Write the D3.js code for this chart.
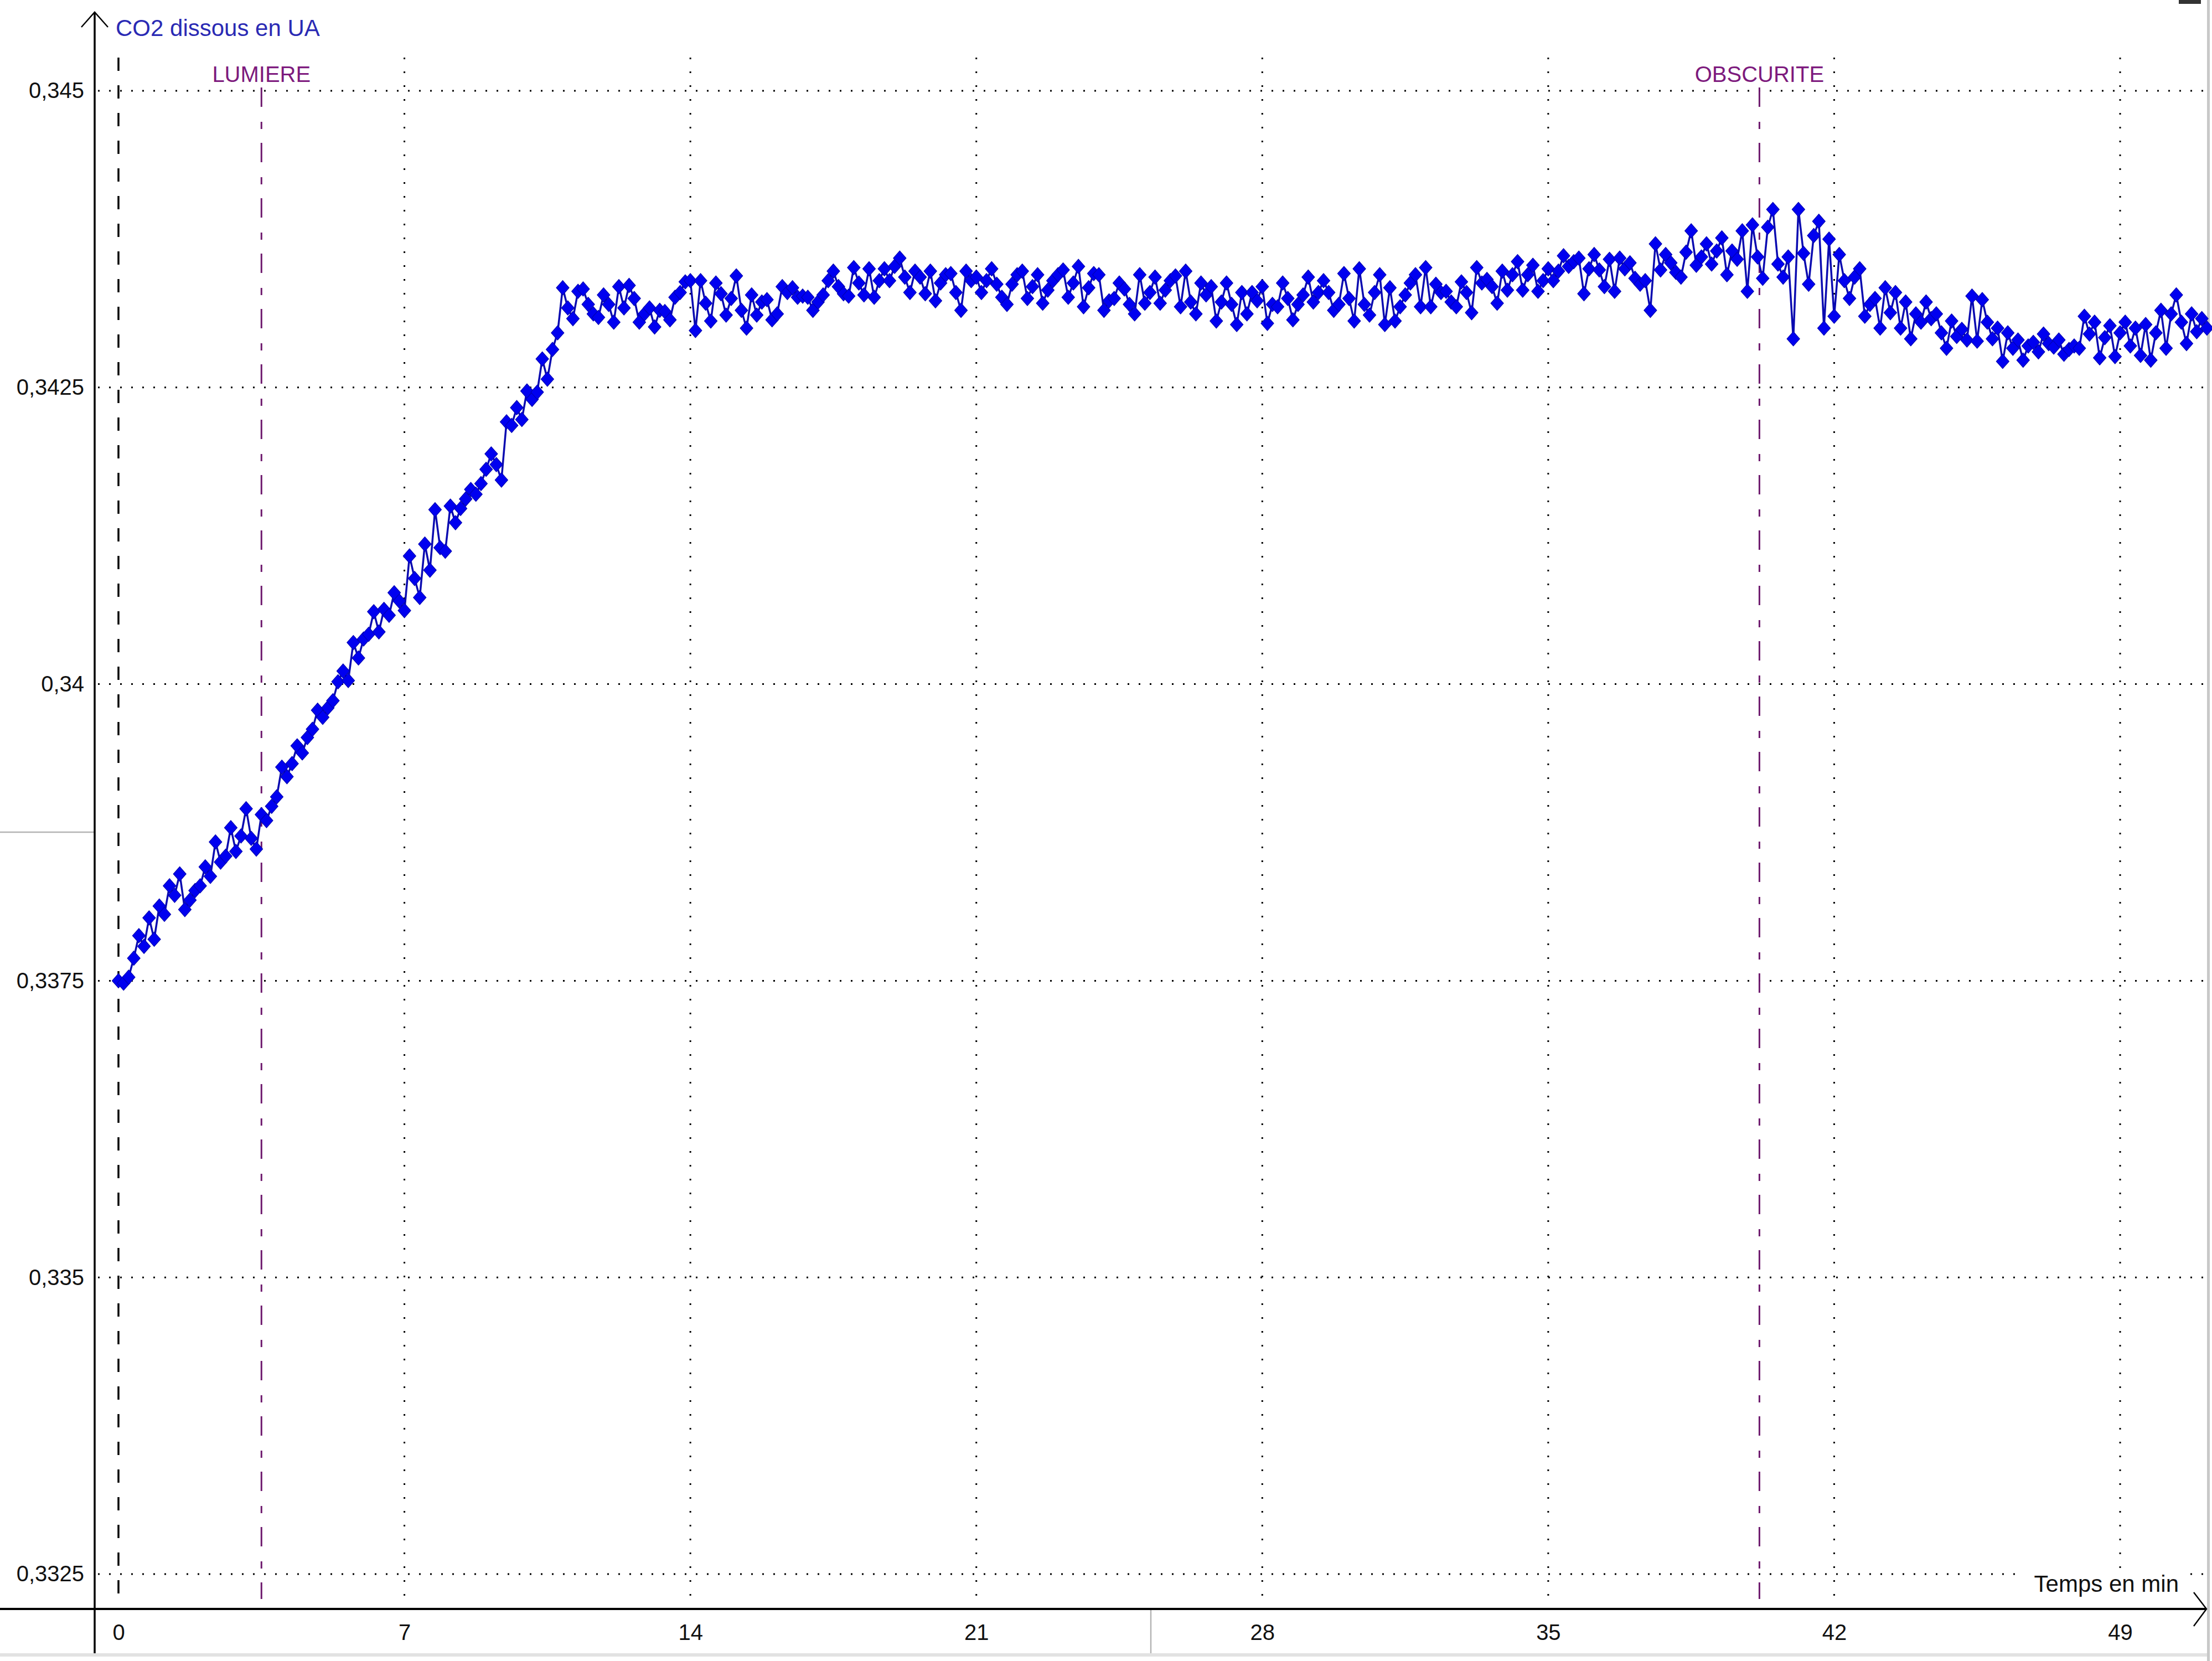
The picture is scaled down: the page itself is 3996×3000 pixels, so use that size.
<!DOCTYPE html>
<html>
<head>
<meta charset="utf-8">
<script src="https://cdn.jsdelivr.net/npm/d3@7"></script>
<style>
  html, body { margin: 0; padding: 0; background: #fff; }
  svg { display: block; }
</style>
</head>
<body>
<svg id="chart" width="3996" height="3000"></svg>
<script>
// ---------- DATA ----------
const sampleMin = 0.125; // acquisition period (min)
const co2 = [
  0.33750,0.33748,0.33753,0.33769,0.33788,0.33779,0.33803,0.33785,
  0.33813,0.33806,0.33830,0.33822,0.33840,0.33810,0.33818,0.33826,
  0.33830,0.33846,0.33838,0.33867,0.33850,0.33855,0.33879,0.33859,
  0.33872,0.33895,0.33870,0.33861,0.33890,0.33885,0.33897,0.33905,
  0.33930,0.33922,0.33933,0.33948,0.33942,0.33955,0.33962,0.33978,
  0.33972,0.33980,0.33986,0.34002,0.34011,0.34003,0.34035,0.34022,
  0.34038,0.34042,0.34061,0.34044,0.34063,0.34058,0.34077,0.34070,
  0.34062,0.34108,0.34089,0.34073,0.34118,0.34096,0.34147,0.34115,
  0.34112,0.34150,0.34136,0.34148,0.34156,0.34164,0.34160,0.34169,
  0.34181,0.34194,0.34185,0.34172,0.34221,0.34218,0.34233,0.34223,
  0.34247,0.34240,0.34246,0.34274,0.34257,0.34282,0.34296,0.34334,
  0.34317,0.34308,0.34331,0.34333,0.34320,0.34312,0.34309,0.34328,
  0.34320,0.34305,0.34335,0.34317,0.34336,0.34325,0.34305,0.34312,
  0.34317,0.34301,0.34315,0.34314,0.34307,0.34326,0.34330,0.34339,
  0.34340,0.34298,0.34340,0.34321,0.34306,0.34338,0.34329,0.34311,
  0.34325,0.34344,0.34315,0.34300,0.34328,0.34311,0.34322,0.34324,
  0.34307,0.34312,0.34335,0.34330,0.34334,0.34326,0.34327,0.34326,
  0.34315,0.34322,0.34328,0.34340,0.34348,0.34335,0.34329,0.34327,
  0.34351,0.34338,0.34328,0.34350,0.34326,0.34340,0.34350,0.34340,
  0.34352,0.34359,0.34343,0.34330,0.34348,0.34343,0.34329,0.34348,
  0.34323,0.34338,0.34345,0.34346,0.34330,0.34315,0.34348,0.34340,
  0.34343,0.34330,0.34340,0.34350,0.34337,0.34326,0.34320,0.34337,
  0.34345,0.34348,0.34325,0.34335,0.34345,0.34321,0.34332,0.34340,
  0.34345,0.34349,0.34326,0.34338,0.34352,0.34318,0.34334,0.34346,
  0.34345,0.34315,0.34323,0.34325,0.34338,0.34333,0.34320,0.34312,
  0.34345,0.34321,0.34330,0.34343,0.34321,0.34332,0.34340,0.34344,
  0.34318,0.34348,0.34322,0.34312,0.34338,0.34328,0.34335,0.34306,
  0.34322,0.34338,0.34320,0.34303,0.34330,0.34312,0.34330,0.34323,
  0.34335,0.34304,0.34320,0.34318,0.34338,0.34325,0.34307,0.34320,
  0.34328,0.34343,0.34322,0.34330,0.34340,0.34330,0.34315,0.34320,
  0.34346,0.34325,0.34306,0.34350,0.34320,0.34311,0.34330,0.34345,
  0.34303,0.34334,0.34306,0.34318,0.34328,0.34338,0.34345,0.34318,
  0.34351,0.34318,0.34337,0.34330,0.34331,0.34322,0.34318,0.34339,
  0.34330,0.34313,0.34351,0.34338,0.34341,0.34335,0.34321,0.34348,
  0.34332,0.34345,0.34356,0.34332,0.34345,0.34353,0.34331,0.34340,
  0.34350,0.34340,0.34348,0.34361,0.34352,0.34356,0.34359,0.34329,
  0.34350,0.34362,0.34349,0.34335,0.34358,0.34331,0.34359,0.34350,
  0.34355,0.34342,0.34337,0.34340,0.34315,0.34371,0.34349,0.34362,
  0.34355,0.34347,0.34343,0.34364,0.34382,0.34353,0.34360,0.34371,
  0.34354,0.34365,0.34376,0.34345,0.34365,0.34358,0.34382,0.34331,
  0.34387,0.34360,0.34342,0.34385,0.34400,0.34354,0.34343,0.34360,
  0.34291,0.34400,0.34363,0.34337,0.34378,0.34390,0.34300,0.34375,
  0.34310,0.34362,0.34340,0.34325,0.34343,0.34350,0.34310,0.34320,
  0.34325,0.34300,0.34334,0.34313,0.34330,0.34300,0.34322,0.34291,
  0.34312,0.34305,0.34322,0.34308,0.34312,0.34296,0.34283,0.34306,
  0.34293,0.34299,0.34290,0.34327,0.34289,0.34324,0.34305,0.34291,
  0.34300,0.34272,0.34296,0.34283,0.34290,0.34273,0.34285,0.34288,
  0.34280,0.34295,0.34287,0.34284,0.34290,0.34278,0.34282,0.34285,
  0.34283,0.34310,0.34295,0.34305,0.34275,0.34292,0.34302,0.34276,
  0.34296,0.34305,0.34285,0.34300,0.34277,0.34303,0.34273,0.34296,
  0.34315,0.34283,0.34312,0.34328,0.34305,0.34287,0.34312,0.34297,
  0.34308,0.34300
];
const xTicks = [0, 7, 14, 21, 28, 35, 42, 49];
const yTicks = [0.3325, 0.335, 0.3375, 0.34, 0.3425, 0.345];
const events = [
  { label: "LUMIERE", t: 3.5 },
  { label: "OBSCURITE", t: 40.17 }
];
const yTitle = "CO2 dissous en UA";
const xTitle = "Temps en min";

// ---------- LAYOUT ----------
const svg = d3.select("#chart");
const FONT = "'Liberation Sans', Arial, sans-serif";
const x = d3.scaleLinear().domain([0, 51.1]).range([214, 3985]);
const y = d3.scaleLinear().domain([0.3325, 0.345]).range([2843, 164]);
const axisX = 171, axisY = 2906, gridTop = 104;
const fr = d3.formatLocale({ decimal: ",", thousands: " ", grouping: [3], currency: ["", " €"] });
const fmt = fr.format(".4~f");

svg.append("rect").attr("width", 3996).attr("height", 3000).attr("fill", "#fff");

// window-like borders / artefacts
svg.append("rect").attr("x", 0).attr("y", 2986).attr("width", 3990).attr("height", 6).attr("fill", "#e2e2e2");
svg.append("rect").attr("x", 3987).attr("y", 0).attr("width", 5).attr("height", 3000).attr("fill", "#c8c8c8");
svg.append("rect").attr("x", 3936).attr("y", 0).attr("width", 40).attr("height", 7).attr("fill", "#333");
svg.append("line").attr("x1", 0).attr("x2", axisX).attr("y1", 1503).attr("y2", 1503)
  .attr("stroke", "#b4b4b4").attr("stroke-width", 2.5);
svg.append("line").attr("x1", 2079).attr("x2", 2079).attr("y1", axisY).attr("y2", 2986)
  .attr("stroke", "#b4b4b4").attr("stroke-width", 2.5);

// horizontal dotted grid
svg.append("g").selectAll("line").data(yTicks).join("line")
  .attr("x1", axisX + 6).attr("x2", 3985)
  .attr("y1", d => y(d)).attr("y2", d => y(d))
  .attr("stroke", "#000").attr("stroke-width", 3).attr("stroke-dasharray", "3,17");

// vertical dotted grid
svg.append("g").selectAll("line").data(xTicks.filter(d => d > 0)).join("line")
  .attr("x1", d => x(d)).attr("x2", d => x(d))
  .attr("y1", gridTop).attr("y2", axisY)
  .attr("stroke", "#000").attr("stroke-width", 3).attr("stroke-dasharray", "3,22");

// t = 0 dashed line
svg.append("line").attr("x1", x(0)).attr("x2", x(0)).attr("y1", gridTop).attr("y2", axisY)
  .attr("stroke", "#000").attr("stroke-width", 3.5).attr("stroke-dasharray", "24,26");

// event markers
const ev = svg.append("g");
ev.selectAll("line").data(events).join("line")
  .attr("x1", d => x(d.t)).attr("x2", d => x(d.t))
  .attr("y1", 158).attr("y2", 2888)
  .attr("stroke", "#6e1a6e").attr("stroke-width", 3).attr("stroke-dasharray", "35,27,13,25");
ev.selectAll("text").data(events).join("text")
  .attr("x", d => x(d.t)).attr("y", 148)
  .attr("text-anchor", "middle")
  .attr("font-family", FONT).attr("font-size", 40)
  .attr("fill", "#7d1a7d")
  .text(d => d.label);

// data line + diamonds
const pts = co2.map((v, i) => ({ t: i * sampleMin, v }));
svg.append("path").datum(pts)
  .attr("fill", "none").attr("stroke", "#0a0ab0").attr("stroke-width", 3.5)
  .attr("d", d3.line().x(d => x(d.t)).y(d => y(d.v)));
svg.append("g").selectAll("path").data(pts).join("path")
  .attr("transform", d => `translate(${x(d.t)},${y(d.v)})`)
  .attr("d", "M0,-13L11.5,0L0,13L-11.5,0Z")
  .attr("fill", "#0000f0").attr("stroke", "#0000b4").attr("stroke-width", 1.2);

// axes lines
svg.append("line").attr("x1", 0).attr("x2", 3985).attr("y1", axisY).attr("y2", axisY)
  .attr("stroke", "#000").attr("stroke-width", 4);
svg.append("line").attr("x1", axisX).attr("x2", axisX).attr("y1", 22).attr("y2", 2986)
  .attr("stroke", "#000").attr("stroke-width", 3.5);
// arrows
svg.append("path").attr("d", `M147,49L${axisX},22L195,49`)
  .attr("fill", "none").attr("stroke", "#000").attr("stroke-width", 2.5);
svg.append("path").attr("d", `M3963,2876L3986,${axisY}L3963,2937`)
  .attr("fill", "none").attr("stroke", "#000").attr("stroke-width", 2.5);

// tick labels via d3 axes
const gy = svg.append("g").attr("transform", `translate(${axisX},0)`)
  .call(d3.axisLeft(y).tickValues(yTicks).tickSize(0).tickPadding(19).tickFormat(fmt));
gy.select(".domain").remove();
gy.selectAll("text").attr("font-family", FONT).attr("font-size", 40).attr("fill", "#111");

const gx = svg.append("g").attr("transform", `translate(0,${axisY})`)
  .call(d3.axisBottom(x).tickValues(xTicks).tickSize(0).tickPadding(28).tickFormat(d3.format("d")));
gx.select(".domain").remove();
gx.selectAll("text").attr("font-family", FONT).attr("font-size", 40).attr("fill", "#111");

// titles
svg.append("text").attr("x", 209).attr("y", 65)
  .attr("font-family", FONT).attr("font-size", 42).attr("fill", "#2a2ab4")
  .text(yTitle);
svg.append("rect").attr("x", 3656).attr("y", 2833).attr("width", 296).attr("height", 52).attr("fill", "#fff");
svg.append("text").attr("x", 3936).attr("y", 2875).attr("text-anchor", "end")
  .attr("font-family", FONT).attr("font-size", 42).attr("fill", "#111")
  .text(xTitle);
</script>
</body>
</html>
